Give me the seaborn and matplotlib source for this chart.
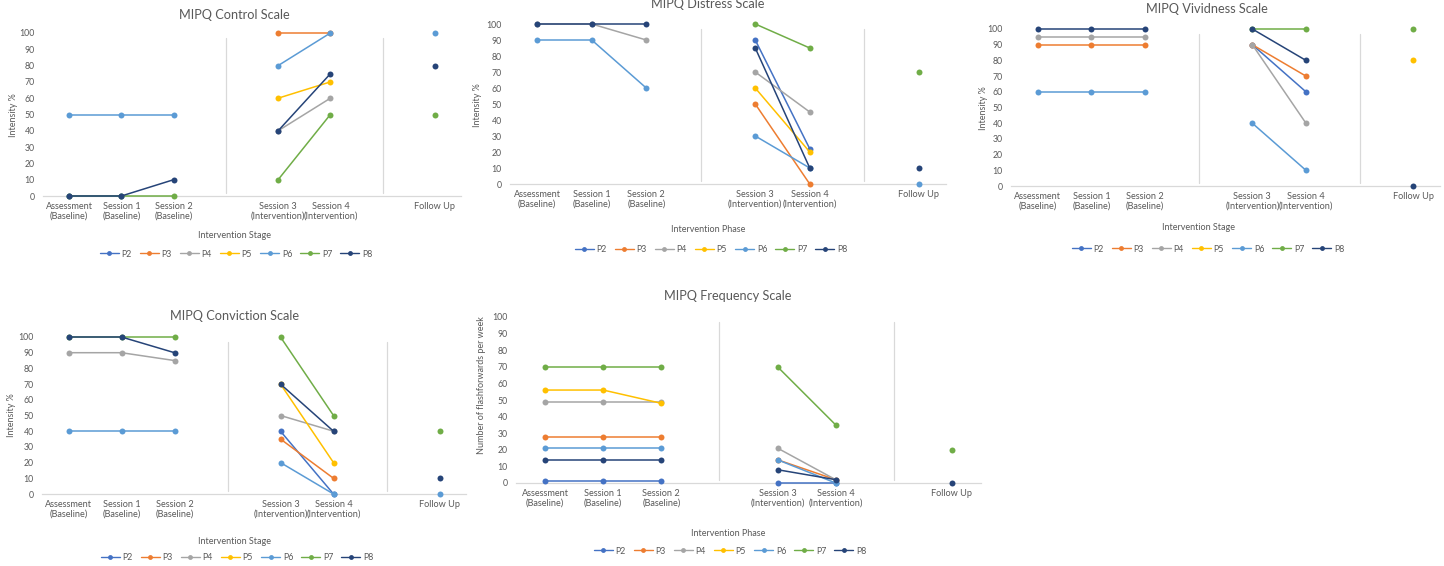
import numpy as np
import pandas as pd
import matplotlib
matplotlib.use("Agg")
import matplotlib.pyplot as plt
from matplotlib.lines import Line2D
import seaborn as sns

n = np.nan

# x categories (empty slots are the gaps between phases)
stages = ['Assessment\n(Baseline)', 'Session 1\n(Baseline)', 'Session 2\n(Baseline)', '',
          'Session 3\n(Intervention)', 'Session 4\n(Intervention)', '', 'Follow Up']
stage_slots = [0, 1, 2, 4, 5, 7]
participants = ['P2', 'P3', 'P4', 'P5', 'P6', 'P7', 'P8']
colors = ['#4472C4', '#ED7D31', '#A5A5A5', '#FFC000', '#5B9BD5', '#70AD47', '#264478']

# rows: P2..P8, cols: Assessment, S1, S2, S3, S4, Follow Up
control = [
    [0, 0, n, n, n, n],
    [n, n, n, 100, 100, n],
    [n, n, n, 40, 60, n],
    [n, n, n, 60, 70, n],
    [50, 50, 50, 80, 100, 100],
    [0, 0, 0, 10, 50, 50],
    [0, 0, 10, 40, 75, 80],
]
distress = [
    [n, n, n, 90, 22, n],
    [n, n, n, 50, 0, n],
    [100, 100, 90, 70, 45, n],
    [n, n, n, 60, 20, n],
    [90, 90, 60, 30, 10, 0],
    [n, n, n, 100, 85, 70],
    [100, 100, 100, 85, 10, 10],
]
vividness = [
    [n, n, n, 90, 60, n],
    [90, 90, 90, 90, 70, n],
    [95, 95, 95, 90, 40, n],
    [n, n, n, n, n, 80],
    [60, 60, 60, 40, 10, n],
    [n, n, n, 100, 100, 100],
    [100, 100, 100, 100, 80, 0],
]
conviction = [
    [n, n, n, 40, 0, n],
    [n, n, n, 35, 10, n],
    [90, 90, 85, 50, 40, n],
    [n, n, n, 70, 20, n],
    [40, 40, 40, 20, 0, 0],
    [100, 100, 100, 100, 50, 40],
    [100, 100, 90, 70, 40, 10],
]
frequency = [
    [1, 1, 1, 0, 0, n],
    [28, 28, 28, 14, 2, n],
    [49, 49, 49, 21, 2, n],
    [56, 56, 48, n, n, n],
    [21, 21, 21, 14, 0, n],
    [70, 70, 70, 70, 35, 20],
    [14, 14, 14, 8, 2, 0],
]

W, H = 1444, 566
sns.set_style('white')
plt.rcParams['font.family'] = ['Lato', 'DejaVu Sans']
txt = '#595959'
grid = '#D9D9D9'

fig = plt.figure(figsize=(W / 100, H / 100), dpi=100)


def to_long(vals):
    rows = []
    for p, row in zip(participants, vals):
        for slot, v in zip(stage_slots, row):
            if np.isnan(v):
                continue
            seg = 0 if slot < 3 else (1 if slot < 6 else 2)
            rows.append({'participant': p, 'slot': slot, 'value': v, 'seg': seg})
    return pd.DataFrame(rows)


# (title, data, ylabel, xlabel, axes box l,r,top,bottom in px, title xy, xlabel xy, ylabel xy, legend xy)
panels = [
    ('MIPQ Control Scale', control, 'Intensity %', 'Intervention Stage',
     (43, 461, 33, 196), (234, 15), (234, 235), (13, 115), (236, 254)),
    ('MIPQ Distress Scale', distress, 'Intensity %', 'Intervention Phase',
     (510, 946, 24, 184), (708, 4), (708, 230), (477, 105), (711, 250)),
    ('MIPQ Vividness Scale', vividness, 'Intensity %', 'Intervention Stage',
     (1011, 1440, 29, 186), (1207, 9), (1198, 228), (983, 108), (1208, 249)),
    ('MIPQ Conviction Scale', conviction, 'Intensity %', 'Intervention Stage',
     (42, 466, 337, 494), (235, 316), (234, 542), (12, 415), (237, 558)),
    ('MIPQ Frequency Scale', frequency, 'Number of flashforwards per week', 'Intervention Phase',
     (516, 981, 317, 483), (728, 296), (728, 534), (481, 385), (730, 551)),
]

handles = [Line2D([0], [0], color=c, lw=1, marker='o', markersize=3.5, markeredgewidth=0)
           for c in colors]

for title, vals, ylab, xlab, box, tpos, xpos, ypos, lpos in panels:
    l, r, t, b = box
    ax = fig.add_axes([l / W, 1 - b / H, (r - l) / W, (b - t) / H])
    df = to_long(vals)
    sns.lineplot(data=df, x='slot', y='value', hue='participant', units='seg',
                 estimator=None, hue_order=participants, palette=colors,
                 marker='o', markersize=4.3, markeredgewidth=0, linewidth=1.1,
                 legend=False, ax=ax)
    for ln in ax.lines:
        ln.set_clip_on(False)
        ln.set_zorder(3)
    ax.axvline(3, ymin=0.02, ymax=0.97, color=grid, lw=0.9, zorder=0)
    ax.axvline(6, ymin=0.02, ymax=0.97, color=grid, lw=0.9, zorder=0)
    ax.set_xlim(-0.5, 7.5)
    ax.set_ylim(0, 100)
    ax.set_xticks(range(8))
    ax.set_xticklabels(stages, fontsize=6.6, color=txt, linespacing=1.1)
    ax.set_yticks(range(0, 101, 10))
    ax.set_yticklabels([str(v) for v in range(0, 101, 10)], fontsize=6.3, color=txt)
    ax.tick_params(axis='both', length=0)
    ax.tick_params(axis='x', pad=4)
    ax.tick_params(axis='y', pad=6)
    ax.set_xlabel('')
    ax.set_ylabel('')
    for s in ['top', 'right', 'left']:
        ax.spines[s].set_visible(False)
    ax.spines['bottom'].set_color(grid)
    ax.spines['bottom'].set_linewidth(0.9)
    ax.spines['bottom'].set_zorder(1)
    ax.patch.set_alpha(0)

    fig.text(tpos[0] / W, 1 - tpos[1] / H, title, ha='center', va='center',
             fontsize=9.2, color=txt)
    fig.text(xpos[0] / W, 1 - xpos[1] / H, xlab, ha='center', va='center',
             fontsize=6.5, color=txt)
    fig.text(ypos[0] / W, 1 - ypos[1] / H, ylab, ha='center', va='center',
             fontsize=6.5, color=txt, rotation=90)
    fig.legend(handles, participants, loc='center',
               bbox_to_anchor=(lpos[0] / W, 1 - lpos[1] / H), ncol=7, frameon=False,
               fontsize=6.3, labelcolor=txt, handlelength=2.2, handletextpad=0.3,
               columnspacing=0.9, borderpad=0)

fig.savefig('out.png', dpi=100)
